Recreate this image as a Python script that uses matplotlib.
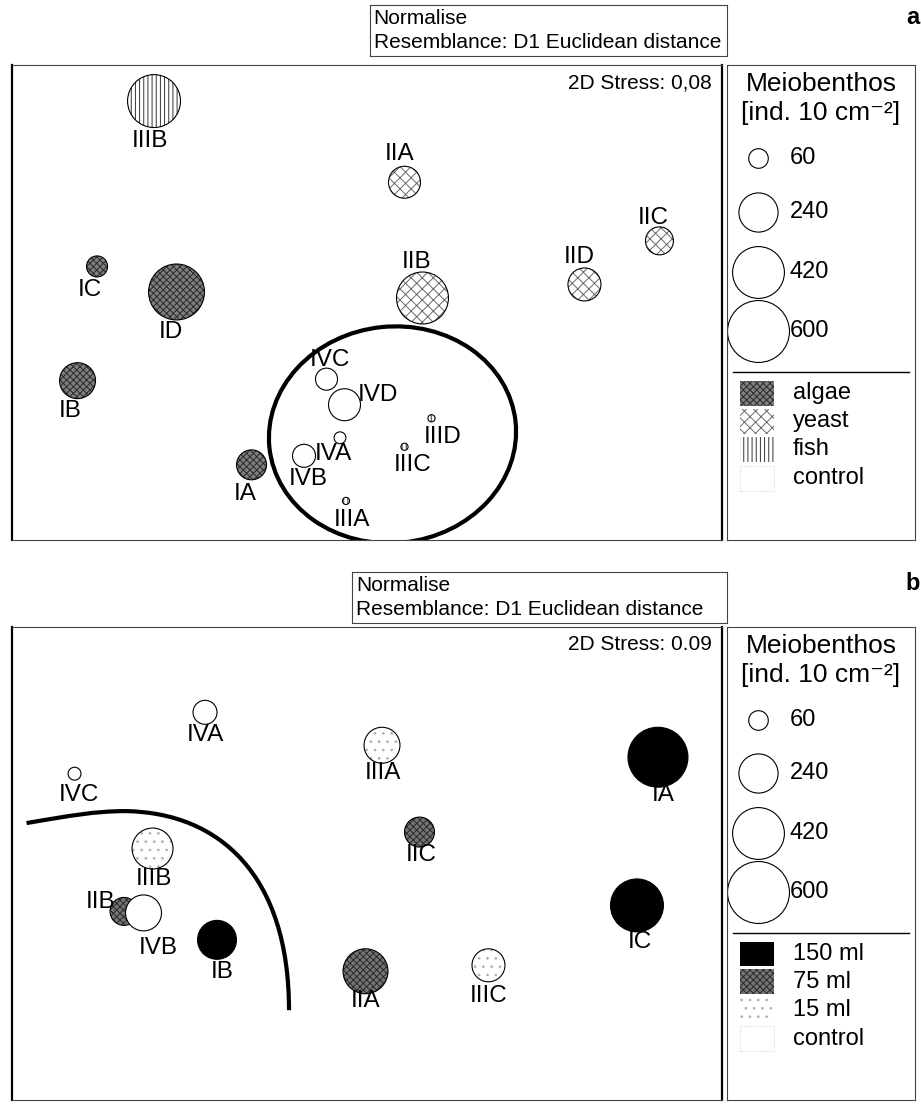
import matplotlib.pyplot as plt
from matplotlib.patches import Ellipse, Rectangle, PathPatch
from matplotlib.path import Path

plt.rcParams['font.family'] = ['Liberation Sans', 'DejaVu Sans']
plt.rcParams['hatch.linewidth'] = 0.7

W, H = 921, 1108

# ---- (a) food source experiment: MDS coordinates and meiobenthos abundance ----
labels_a = ['IA', 'IB', 'IC', 'ID', 'IIA', 'IIB', 'IIC', 'IID',
            'IIIA', 'IIIB', 'IIIC', 'IIID', 'IVA', 'IVB', 'IVC', 'IVD']
treat_a = ['algae'] * 4 + ['yeast'] * 4 + ['fish'] * 4 + ['control'] * 4
x_a = [-0.77, -1.93, -1.80, -1.27, 0.25, 0.37, 1.95, 1.45,
       -0.14, -1.42, 0.25, 0.43, -0.18, -0.42, -0.27, -0.15]
y_a = [-1.08, -0.52, 0.24, 0.07, 0.80, 0.03, 0.41, 0.12,
       -1.32, 1.34, -0.96, -0.77, -0.90, -1.02, -0.51, -0.68]
abund_a = [140, 202, 69, 489, 160, 422, 122, 170,
           8, 438, 8, 8, 22, 83, 76, 160]
stress_a = '0,08'
treatments_a = ['algae', 'yeast', 'fish', 'control']

# ---- (b) food quantity experiment ----
labels_b = ['IA', 'IB', 'IC', 'IIA', 'IIB', 'IIC',
            'IIIA', 'IIIB', 'IIIC', 'IVA', 'IVB', 'IVC']
treat_b = ['150 ml'] * 3 + ['75 ml'] * 3 + ['15 ml'] * 3 + ['control'] * 3
x_b = [1.94, -1.00, 1.80, -0.01, -1.62, 0.35,
       0.10, -1.43, 0.81, -1.08, -1.49, -1.95]
y_b = [0.71, -0.51, -0.28, -0.72, -0.32, 0.21,
       0.79, 0.10, -0.68, 1.01, -0.33, 0.60]
abund_b = [562, 237, 438, 316, 122, 140,
           202, 262, 170, 90, 202, 26]
stress_b = '0.09'
treatments_b = ['150 ml', '75 ml', '15 ml', 'control']

size_legend = [60, 240, 420, 600]

# group outline in (b), drawn by hand through the cluster
outline_b = [(-2.27, 0.27), (-1.98, 0.32), (-1.81, 0.35), (-1.61, 0.35),
             (-0.98, 0.34), (-0.52, -0.08), (-0.52, -0.98)]

# fill, hatch and hatch colour for each treatment
styles = {
    'algae':   ('#7e7e7e', 'xxxxx', '#2a2a2a'),
    'yeast':   ('white', 'xxx', '#6a6a6a'),
    'fish':    ('white', '||||', '#333333'),
    'control': ('white', None, 'white'),
    '150 ml':  ('black', None, 'black'),
    '75 ml':   ('#747474', 'xxxxx', '#2a2a2a'),
    '15 ml':   ('white', '..', '#b0b0b0'),
}


def bubble_size(v):
    # marker area proportional to abundance, 600 ind. -> 44.6 pt diameter
    return 44.6 ** 2 * v / 600.0


def draw_bubbles(ax, xs, ys, vals, treats, order):
    for t in order:
        idx = [i for i, g in enumerate(treats) if g == t]
        px = [xs[i] for i in idx]
        py = [ys[i] for i in idx]
        s = [bubble_size(vals[i]) for i in idx]
        face, hatch, hcol = styles[t]
        ax.scatter(px, py, s=s, facecolors=face, edgecolors=hcol,
                   hatch=hatch, linewidths=0, zorder=3)
        ax.scatter(px, py, s=s, facecolors='none', edgecolors='black',
                   linewidths=0.8, zorder=3)


def draw_labels(ax, xs, ys, labels, offsets):
    for x, y, lab, off in zip(xs, ys, labels, offsets):
        ax.annotate(lab, (x, y), xytext=off, textcoords='offset pixels',
                    ha='center', va='center', fontsize=17.5, zorder=4)


def setup_main(ax, stress):
    ax.set_xlim(-2.367, 2.367)
    ax.set_ylim(-1.58, 1.58)
    ax.set_xticks([])
    ax.set_yticks([])
    for side in ['top', 'bottom']:
        ax.spines[side].set_linewidth(0.8)
        ax.spines[side].set_color('#444444')
    for side in ['left', 'right']:
        ax.spines[side].set_linewidth(1.6)
    ax.text(0.986, 0.962, '2D Stress: ' + stress, transform=ax.transAxes,
            ha='right', va='center', fontsize=15)


def draw_legend(ax, treatments):
    ax.set_xlim(0, 1)
    ax.set_ylim(0, 1)
    ax.set_xticks([])
    ax.set_yticks([])
    for sp in ax.spines.values():
        sp.set_linewidth(0.8)
        sp.set_color('#444444')
    ax.text(0.5, 0.960, 'Meiobenthos', ha='center', va='center', fontsize=19)
    ax.text(0.5, 0.898, '[ind. 10 cm\u207b\u00b2]', ha='center', va='center', fontsize=19)
    ys = [0.804, 0.691, 0.564, 0.44]
    for v, yy in zip(size_legend, ys):
        ax.scatter([0.165], [yy], s=bubble_size(v), facecolors='white',
                   edgecolors='black', linewidths=0.8, transform=ax.transAxes)
        ax.text(0.335, yy, str(v), ha='left', va='center', fontsize=17)
    ax.plot([0.03, 0.97], [0.354, 0.354], color='black', lw=1.0)
    ys = [0.309, 0.250, 0.191, 0.130]
    for t, yy in zip(treatments, ys):
        face, hatch, hcol = styles[t]
        if t == 'control':
            ax.add_patch(Rectangle((0.07, yy - 0.026), 0.18, 0.052, facecolor='white',
                                   edgecolor='#c8c8c8', lw=0.6, ls=':'))
        else:
            ax.add_patch(Rectangle((0.07, yy - 0.026), 0.18, 0.052, facecolor=face,
                                   edgecolor=hcol, hatch=hatch, lw=0))
        ax.text(0.35, yy, t, ha='left', va='center', fontsize=17)


def draw_header(top_px, left_px, letter, letter_px):
    hax = fig.add_axes([left_px / W, 1 - (top_px + 51) / H, (727 - left_px) / W, 51 / H])
    hax.set_xticks([])
    hax.set_yticks([])
    for sp in hax.spines.values():
        sp.set_linewidth(0.8)
        sp.set_color('#444444')
    hax.text(0.01, 0.74, 'Normalise', ha='left', va='center', fontsize=15)
    hax.text(0.01, 0.26, 'Resemblance: D1 Euclidean distance', ha='left',
             va='center', fontsize=15)
    fig.text(913 / W, 1 - letter_px / H, letter, ha='center', va='center',
             fontsize=17, fontweight='bold')


fig = plt.figure(figsize=(W / 100, H / 100), dpi=100)

# panel a
ax_a = fig.add_axes([12 / W, 1 - 540 / H, 710 / W, 475 / H])
setup_main(ax_a, stress_a)
draw_bubbles(ax_a, x_a, y_a, abund_a, treat_a, treatments_a)
offsets_a = [(-6, -29), (-7, -30), (-7, -24), (-6, -40), (-5, 28), (-6, 36),
             (-6, 23), (-5, 27), (6, -19), (-4, -40), (8, -18), (11, -19),
             (-7, -16), (4, -23), (3, 19), (33, 10)]
draw_labels(ax_a, x_a, y_a, labels_a, offsets_a)
ax_a.add_patch(Ellipse((0.17, -0.88), 1.65, 1.44, angle=6, fill=False,
                       lw=3, color='black', zorder=2))
leg_a = fig.add_axes([727 / W, 1 - 540 / H, 188 / W, 475 / H])
draw_legend(leg_a, treatments_a)
draw_header(5, 370, 'a', 18)

# panel b
ax_b = fig.add_axes([12 / W, 1 - 1100 / H, 710 / W, 473 / H])
setup_main(ax_b, stress_b)
draw_bubbles(ax_b, x_b, y_b, abund_b, treat_b, treatments_b)
offsets_b = [(5, -38), (5, -32), (3, -37), (0, -30), (-23, 9), (2, -23),
             (1, -28), (1, -30), (0, -31), (0, -23), (15, -35), (4, -21)]
draw_labels(ax_b, x_b, y_b, labels_b, offsets_b)
codes = [Path.MOVETO] + [Path.CURVE4] * 6
ax_b.add_patch(PathPatch(Path(outline_b, codes), fill=False, lw=3,
                         color='black', zorder=2))
leg_b = fig.add_axes([727 / W, 1 - 1100 / H, 188 / W, 473 / H])
draw_legend(leg_b, treatments_b)
draw_header(572, 352, 'b', 583)

fig.savefig('out.png', dpi=100)
